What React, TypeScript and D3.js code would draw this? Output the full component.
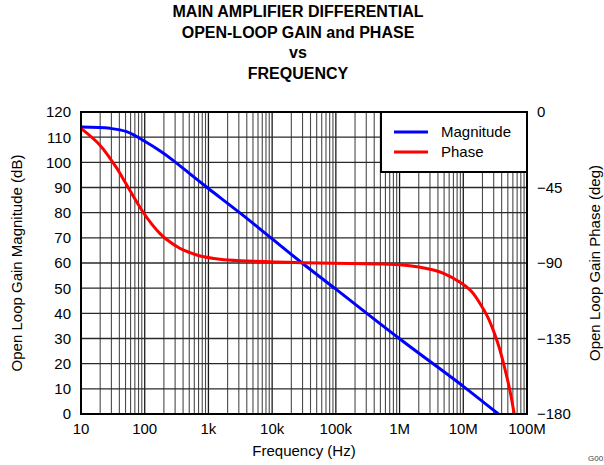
import React from "react";
import * as d3 from "d3";

const titleLines = ["MAIN AMPLIFIER DIFFERENTIAL", "OPEN-LOOP GAIN and PHASE", "vs", "FREQUENCY"];
const freqTicks = [10, 100, 1e3, 1e4, 1e5, 1e6, 1e7, 1e8];
const freqLabels = ["10", "100", "1k", "10k", "100k", "1M", "10M", "100M"];
const gainTicks = [0, 10, 20, 30, 40, 50, 60, 70, 80, 90, 100, 110, 120];
const phaseTicks = [0, -45, -90, -135, -180];
const phaseLabels = ["0", "\u221245", "\u221290", "\u2212135", "\u2212180"];

// [Hz, dB]
const magnitude: [number, number][] = [
  [10, 114], [28.5, 113.5], [52, 112.2], [100, 108.4], [180, 104.3], [282, 100.7],
  [575, 94.4], [1000, 89.6], [3160, 79.8], [10000, 69.6], [29500, 60], [100000, 49.6],
  [1e6, 29.9], [1e7, 11], [3.55e7, 0],
];
// [Hz, deg]
const phase: [number, number][] = [
  [10, -9.8], [20, -19.9], [36, -33.2], [46, -39.9], [59, -47], [95, -59.9],
  [130, -67], [174, -72.5], [221, -76], [355, -81.2], [513, -83.8], [741, -85.8],
  [1514, -87.7], [3162, -88.6], [29500, -89.8], [490000, -90.6], [1e6, -91.1],
  [2e6, -92.4], [3.4e6, -94.2], [5e6, -96.3], [8.9e6, -101.5], [1.35e7, -107],
  [1.82e7, -114], [2.4e7, -122], [2.95e7, -130], [3.6e7, -139.5], [4.27e7, -149.7],
  [5.37e7, -165.7], [6.3e7, -180],
];

const W = 604, H = 465;
const L = 81, R = 527, T = 112, B = 414;
const FONT = "'Liberation Sans', Arial, Helvetica, sans-serif";

export default function App() {
  const x = d3.scaleLog().domain([10, 1e8]).range([L, R]);
  const y = d3.scaleLinear().domain([0, 120]).range([B, T]);
  const yp = d3.scaleLinear().domain([-180, 0]).range([B, T]);

  const minor: number[] = [];
  for (let e = 1; e < 8; e++) {
    for (let m = 2; m <= 9; m++) minor.push(m * Math.pow(10, e));
  }

  const magLine = d3.line<[number, number]>()
    .x(d => x(d[0])).y(d => y(d[1])).curve(d3.curveCatmullRom.alpha(0.5));
  const phLine = d3.line<[number, number]>()
    .x(d => x(d[0])).y(d => yp(d[1])).curve(d3.curveCatmullRom.alpha(0.5));

  const midY = (T + B) / 2;

  return (
    <svg width={W} height={H} style={{ position: "absolute", left: 0, top: 0, background: "#fff" }}
      fontFamily={FONT}>
      <defs>
        <clipPath id="plot">
          <rect x={L} y={T} width={R - L} height={B - T} />
        </clipPath>
      </defs>
      <rect x={0} y={0} width={W} height={H} fill="#fff" />
      {titleLines.map((t, i) => (
        <text key={i} x={298} y={17 + i * 20.5} textAnchor="middle"
          fontSize={16} fontWeight="bold" fill="#000">{t}</text>
      ))}
      <g>
        {minor.map((f, i) => (
          <line key={"m" + i} x1={x(f)} x2={x(f)} y1={T} y2={B} stroke="#4a4a4a" strokeWidth={1.1} />
        ))}
        {freqTicks.map((f, i) => (
          <line key={"M" + i} x1={x(f)} x2={x(f)} y1={T} y2={B} stroke="#1a1a1a" strokeWidth={1.3} />
        ))}
        {gainTicks.map((g, i) => (
          <line key={"h" + i} x1={L} x2={R} y1={y(g)} y2={y(g)} stroke="#2a2a2a" strokeWidth={1.3} />
        ))}
      </g>
      <g clipPath="url(#plot)">
        <path d={magLine(magnitude) || ""} fill="none" stroke="#0000ff" strokeWidth={3} />
        <path d={phLine(phase) || ""} fill="none" stroke="#ff0000" strokeWidth={3} />
      </g>
      <rect x={L} y={T} width={R - L} height={B - T} fill="none" stroke="#000" strokeWidth={2} />
      <g>
        <rect x={381} y={T} width={R - 381} height={60} fill="#fff" stroke="#000" strokeWidth={2} />
        <line x1={394} x2={428} y1={132} y2={132} stroke="#0000ff" strokeWidth={3} />
        <line x1={394} x2={428} y1={152} y2={152} stroke="#ff0000" strokeWidth={3} />
        <text x={441} y={137} fontSize={15} fill="#000">Magnitude</text>
        <text x={441} y={157} fontSize={15} fill="#000">Phase</text>
      </g>
      {gainTicks.map((g, i) => (
        <text key={"gl" + i} x={71} y={y(g)} dy="0.36em" textAnchor="end" fontSize={15} fill="#000">{g}</text>
      ))}
      {phaseTicks.map((p, i) => (
        <text key={"pl" + i} x={537} y={yp(p)} dy="0.36em" textAnchor="start" fontSize={15} fill="#000">{phaseLabels[i]}</text>
      ))}
      {freqTicks.map((f, i) => (
        <text key={"fl" + i} x={x(f)} y={434} textAnchor="middle" fontSize={15} fill="#000">{freqLabels[i]}</text>
      ))}
      <text x={(L + R) / 2} y={456} textAnchor="middle" fontSize={15} fill="#000">Frequency (Hz)</text>
      <text transform={`translate(22,${midY}) rotate(-90)`} textAnchor="middle" fontSize={15} fill="#000">
        Open Loop Gain Magnitude (dB)
      </text>
      <text transform={`translate(600,${midY}) rotate(-90)`} textAnchor="middle" fontSize={15} fill="#000">
        Open Loop Gain Phase (deg)
      </text>
      <text x={588} y={461} fontSize={8} fill="#444">G001</text>
    </svg>
  );
}
